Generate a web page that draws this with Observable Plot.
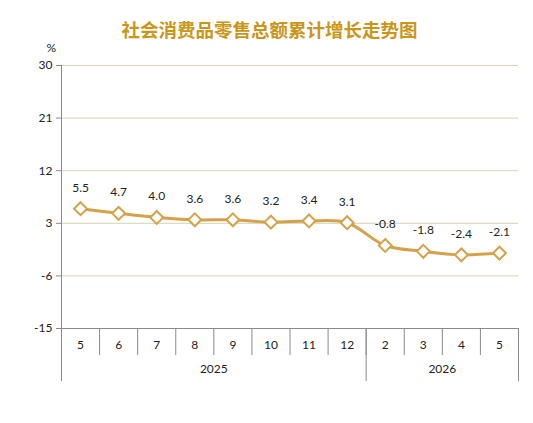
<!DOCTYPE html>
<html><head><meta charset="utf-8">
<script src="https://cdn.jsdelivr.net/npm/d3@7"></script>
<script src="https://cdn.jsdelivr.net/npm/@observablehq/plot@0.6"></script>
<style>
body{margin:0;background:#fff;}
#wrap{position:relative;width:533px;height:423px;}
#title{position:absolute;left:0;top:16px;width:533px;text-align:center;font-family:"Noto Sans CJK SC",sans-serif;font-weight:bold;font-size:18.5px;line-height:26px;color:#c9961a;padding-left:6px;box-sizing:border-box;}
#chart{position:absolute;left:0;top:0;}
</style></head>
<body>
<div id="wrap"><div id="chart"></div><div id="title">社会消费品零售总额累计增长走势图</div></div>
<script>
const months = ["5","6","7","8","9","10","11","12","2","3","4","5"];
const years = ["2025","2026"];
const yearStart = [0, 8];
const yearEnd = [8, 12];
const values = [5.5, 4.7, 4.0, 3.6, 3.6, 3.2, 3.4, 3.1, -0.8, -1.8, -2.4, -2.1];
const yTicks = [-15, -6, 3, 12, 21, 30];

const data = values.map((v, i) => ({i: i + 0.5, v, label: v.toFixed(1)}));
const bounds = d3.range(0, months.length + 1);
const yearBounds = [...yearStart, yearEnd[yearEnd.length - 1]];
const yearMids = years.map((y, k) => (yearStart[k] + yearEnd[k]) / 2);

const col = "#d4a24a";
const font = "Lato, 'Open Sans', sans-serif";

const chart = Plot.plot({
  width: 533, height: 423,
  marginTop: 65, marginBottom: 95, marginLeft: 61, marginRight: 15,
  style: {fontFamily: font, fontSize: "12px", color: "#222", background: "transparent"},
  x: {type: "linear", domain: [0, months.length], axis: null},
  y: {domain: [-15, 30], axis: null},
  marks: [
    Plot.ruleY(yTicks.filter(t => t !== -15), {stroke: "#d8d2b2", strokeWidth: 1}),
    Plot.ruleY([-15], {stroke: "#8a8a8a", strokeWidth: 1}),
    Plot.ruleX([0], {stroke: "#8a8a8a", strokeWidth: 1}),
    Plot.axisY({ticks: yTicks, tickSize: 5, tickPadding: 4, tickFormat: d => String(d), stroke: "#8a8a8a", fontSize: 12, color: "#222", label: null}),
    Plot.axisX({ticks: bounds, tickSize: 27, tickFormat: () => "", stroke: "#8a8a8a", label: null}),
    Plot.axisX({ticks: yearBounds, tickSize: 53, tickFormat: () => "", stroke: "#8a8a8a", label: null}),
    Plot.axisX({ticks: data.map(d => d.i), tickSize: 0, tickPadding: 12, tickFormat: (d) => months[Math.floor(d)], fontSize: 12, label: null}),
    Plot.axisX({ticks: yearMids, tickSize: 0, tickPadding: 36, tickFormat: (d) => years[yearMids.indexOf(d)], fontSize: 12, label: null}),
    Plot.text(["%"], {frameAnchor: "top-left", dx: -15, dy: -22, fontSize: 12, fill: "#222"}),
    Plot.line(data, {x: "i", y: "v", stroke: col, strokeWidth: 3, curve: "catmull-rom"}),
    Plot.dot(data, {x: "i", y: "v", symbol: "diamond2", r: 5.8, fill: "white", stroke: col, strokeWidth: 2}),
    Plot.text(data, {x: "i", y: "v", text: "label", dy: -21, fontSize: 12, fill: "#222"})
  ]
});
document.getElementById("chart").append(chart);
</script>
</body></html>
